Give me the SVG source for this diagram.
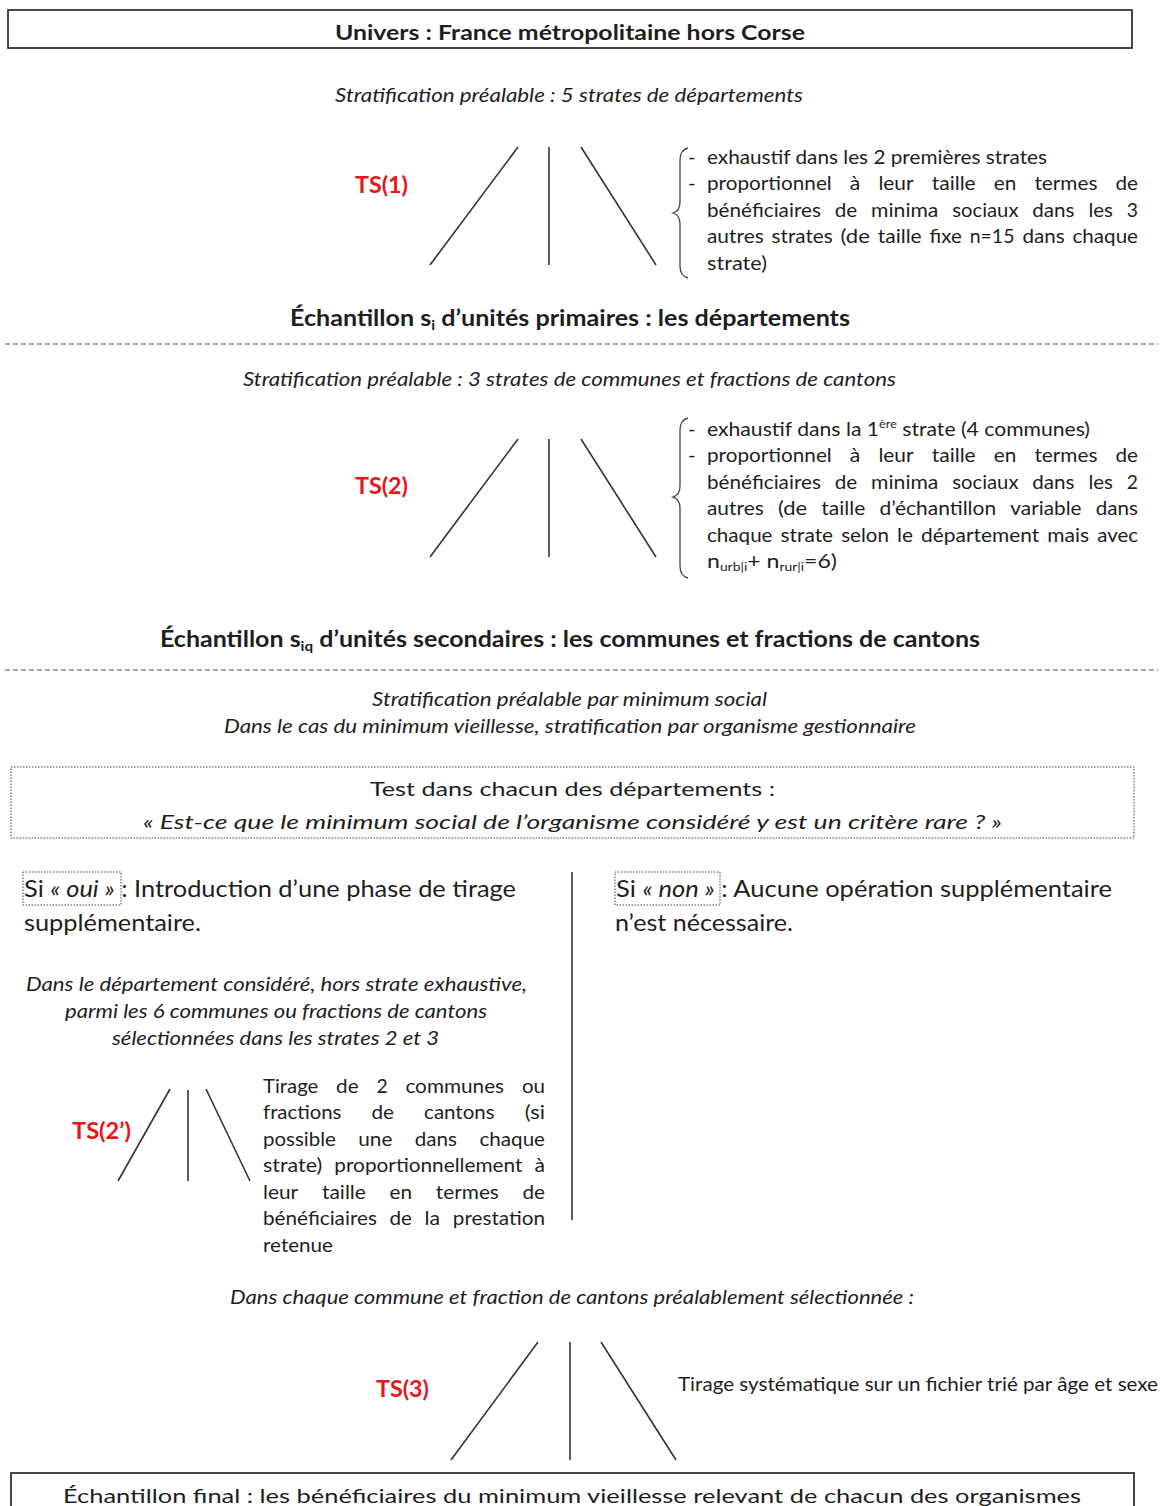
<svg xmlns="http://www.w3.org/2000/svg" width="1164" height="1506" viewBox="0 0 1164 1506">
<style>
text{font-family:Lato,"Noto Sans","Liberation Sans",sans-serif;fill:#1e1e1e;font-size:20px}
.it{font-style:italic}
.h{font-size:23px;font-weight:bold}
.big{font-size:24px}
.ts{fill:#e8161b;font-weight:bold;font-size:22px}
.fan{stroke:#333;stroke-width:1.6;fill:none}
.box{fill:none;stroke:#333;stroke-width:1.8}
.dot{fill:none;stroke:#444;stroke-width:1;stroke-dasharray:1.5 1.5}
.dash{stroke:#555;stroke-width:1.2;stroke-dasharray:5 3}
.brace{fill:none;stroke:#444;stroke-width:1.3}
</style>
<rect width="1164" height="1506" fill="#fff"/>

<g id="univers">
<rect class="box" x="8" y="10" width="1124" height="38"/>
<text x="335" y="40" font-size="22" font-weight="bold" textLength="470" lengthAdjust="spacingAndGlyphs">Univers : France métropolitaine hors Corse</text>
</g>

<g id="strat1">
<text class="it" x="335" y="102" textLength="468" lengthAdjust="spacingAndGlyphs">Stratification préalable : 5 strates de départements</text>
</g>

<g id="ts1">
<text class="ts" x="355" y="193" textLength="53" lengthAdjust="spacingAndGlyphs">TS(1)</text>
<path class="brace" d="M688,148 Q680,150 680,160 L680,202 Q680,211 673,213 Q680,215 680,224 L680,266 Q680,276 688,278"/>
<text x="688" y="164">-</text>
<text x="707" y="164" textLength="340" lengthAdjust="spacingAndGlyphs">exhaustif dans les 2 premières strates</text>
<text x="688" y="190">-</text>
<g lengthAdjust="spacingAndGlyphs">
<text x="707" y="190" textLength="124.7" lengthAdjust="spacingAndGlyphs">proportionnel</text>
<text x="849.8" y="190" textLength="10.5" lengthAdjust="spacingAndGlyphs">à</text>
<text x="878.4" y="190" textLength="35.2" lengthAdjust="spacingAndGlyphs">leur</text>
<text x="931.7" y="190" textLength="44" lengthAdjust="spacingAndGlyphs">taille</text>
<text x="993.8" y="190" textLength="22.5" lengthAdjust="spacingAndGlyphs">en</text>
<text x="1034.4" y="190" textLength="63.1" lengthAdjust="spacingAndGlyphs">termes</text>
<text x="1115.5" y="190" textLength="22.5" lengthAdjust="spacingAndGlyphs">de</text>

<text x="707" y="217" textLength="113.9" lengthAdjust="spacingAndGlyphs">bénéficiaires</text>
<text x="834.8" y="217" textLength="22.5" lengthAdjust="spacingAndGlyphs">de</text>
<text x="871.1" y="217" textLength="67.3" lengthAdjust="spacingAndGlyphs">minima</text>
<text x="952.3" y="217" textLength="66.2" lengthAdjust="spacingAndGlyphs">sociaux</text>
<text x="1032.3" y="217" textLength="42.2" lengthAdjust="spacingAndGlyphs">dans</text>
<text x="1088.4" y="217" textLength="24.6" lengthAdjust="spacingAndGlyphs">les</text>
<text x="1126.8" y="217" textLength="11.2" lengthAdjust="spacingAndGlyphs">3</text>

<text x="707" y="243" textLength="56.7" lengthAdjust="spacingAndGlyphs">autres</text>
<text x="771.6" y="243" textLength="61.1" lengthAdjust="spacingAndGlyphs">strates</text>
<text x="840.6" y="243" textLength="29.2" lengthAdjust="spacingAndGlyphs">(de</text>
<text x="877.7" y="243" textLength="44" lengthAdjust="spacingAndGlyphs">taille</text>
<text x="929.6" y="243" textLength="32.2" lengthAdjust="spacingAndGlyphs">fixe</text>
<text x="969.7" y="243" textLength="44.8" lengthAdjust="spacingAndGlyphs">n=15</text>
<text x="1022.4" y="243" textLength="42.2" lengthAdjust="spacingAndGlyphs">dans</text>
<text x="1072.5" y="243" textLength="65.5" lengthAdjust="spacingAndGlyphs">chaque</text>
</g>
<text x="707" y="270" textLength="60" lengthAdjust="spacingAndGlyphs">strate)</text>
</g>

<g id="echantillon-primaire">
<text class="h" x="290" y="326" textLength="560" lengthAdjust="spacingAndGlyphs">Échantillon s<tspan font-size="14" dy="4">i</tspan><tspan dy="-4"> d’unités primaires : les départements</tspan></text>
<line class="dash" x1="5" y1="344" x2="1158" y2="344"/>
</g>

<g id="strat2">
<text class="it" x="243" y="386" textLength="653" lengthAdjust="spacingAndGlyphs">Stratification préalable : 3 strates de communes et fractions de cantons</text>
</g>

<g id="ts2">
<text class="ts" x="355" y="494" textLength="53" lengthAdjust="spacingAndGlyphs">TS(2)</text>
<path class="brace" d="M688,418 Q680,420 680,430 L680,486 Q680,495 673,497 Q680,499 680,508 L680,566 Q680,576 688,578"/>
<text x="688" y="436">-</text>
<text x="707" y="436" textLength="383" lengthAdjust="spacingAndGlyphs">exhaustif dans la 1<tspan font-size="12" dy="-8">ère</tspan><tspan dy="8"> strate (4 communes)</tspan></text>
<text x="688" y="462">-</text>
<text x="707" y="462" textLength="124.7" lengthAdjust="spacingAndGlyphs">proportionnel</text>
<text x="849.8" y="462" textLength="10.5" lengthAdjust="spacingAndGlyphs">à</text>
<text x="878.4" y="462" textLength="35.2" lengthAdjust="spacingAndGlyphs">leur</text>
<text x="931.7" y="462" textLength="44" lengthAdjust="spacingAndGlyphs">taille</text>
<text x="993.8" y="462" textLength="22.5" lengthAdjust="spacingAndGlyphs">en</text>
<text x="1034.4" y="462" textLength="63.1" lengthAdjust="spacingAndGlyphs">termes</text>
<text x="1115.5" y="462" textLength="22.5" lengthAdjust="spacingAndGlyphs">de</text>

<text x="707" y="489" textLength="113.9" lengthAdjust="spacingAndGlyphs">bénéficiaires</text>
<text x="834.8" y="489" textLength="22.5" lengthAdjust="spacingAndGlyphs">de</text>
<text x="871.1" y="489" textLength="67.3" lengthAdjust="spacingAndGlyphs">minima</text>
<text x="952.3" y="489" textLength="66.2" lengthAdjust="spacingAndGlyphs">sociaux</text>
<text x="1032.3" y="489" textLength="42.2" lengthAdjust="spacingAndGlyphs">dans</text>
<text x="1088.4" y="489" textLength="24.6" lengthAdjust="spacingAndGlyphs">les</text>
<text x="1126.8" y="489" textLength="11.2" lengthAdjust="spacingAndGlyphs">2</text>

<text x="707" y="515" textLength="56.7" lengthAdjust="spacingAndGlyphs">autres</text>
<text x="777.9" y="515" textLength="29.2" lengthAdjust="spacingAndGlyphs">(de</text>
<text x="821.3" y="515" textLength="44" lengthAdjust="spacingAndGlyphs">taille</text>
<text x="879.5" y="515" textLength="116.6" lengthAdjust="spacingAndGlyphs">d’échantillon</text>
<text x="1010.3" y="515" textLength="71.3" lengthAdjust="spacingAndGlyphs">variable</text>
<text x="1095.8" y="515" textLength="42.2" lengthAdjust="spacingAndGlyphs">dans</text>

<text x="707" y="542" textLength="65.5" lengthAdjust="spacingAndGlyphs">chaque</text>
<text x="780.6" y="542" textLength="52.5" lengthAdjust="spacingAndGlyphs">strate</text>
<text x="841.2" y="542" textLength="47.7" lengthAdjust="spacingAndGlyphs">selon</text>
<text x="897" y="542" textLength="16" lengthAdjust="spacingAndGlyphs">le</text>
<text x="921.1" y="542" textLength="118.1" lengthAdjust="spacingAndGlyphs">département</text>
<text x="1047.3" y="542" textLength="41.8" lengthAdjust="spacingAndGlyphs">mais</text>
<text x="1097.3" y="542" textLength="40.7" lengthAdjust="spacingAndGlyphs">avec</text>

<text x="707" y="568" textLength="130" lengthAdjust="spacingAndGlyphs">n<tspan font-size="12" dy="3">urb|i</tspan><tspan dy="-3">+ n</tspan><tspan font-size="12" dy="3">rur|i</tspan><tspan dy="-3">=6)</tspan></text>
</g>

<g id="echantillon-secondaire">
<text class="h" x="160" y="647" textLength="820" lengthAdjust="spacingAndGlyphs">Échantillon s<tspan font-size="14" dy="4">iq</tspan><tspan dy="-4"> d’unités secondaires : les communes et fractions de cantons</tspan></text>
<line class="dash" x1="5" y1="670" x2="1158" y2="670"/>
</g>

<g id="strat3">
<text class="it" x="372" y="706" textLength="395" lengthAdjust="spacingAndGlyphs">Stratification préalable par minimum social</text>
<text class="it" x="224" y="733" textLength="692" lengthAdjust="spacingAndGlyphs">Dans le cas du minimum vieillesse, stratification par organisme gestionnaire</text>
</g>

<g id="test">
<rect class="dot" x="11" y="767" width="1123" height="71"/>
<text x="370" y="796" font-size="25" textLength="405" lengthAdjust="spacingAndGlyphs">Test dans chacun des départements :</text>
<text class="it" x="143" y="829" font-size="25" textLength="859" lengthAdjust="spacingAndGlyphs">« Est-ce que le minimum social de l’organisme considéré y est un critère rare ? »</text>
</g>

<g id="oui">
<rect class="dot" x="23" y="872" width="98" height="33"/>
<text class="big" x="24" y="897" textLength="492" lengthAdjust="spacingAndGlyphs">Si <tspan class="it">« oui »</tspan> : Introduction d’une phase de tirage</text>
<text class="big" x="24" y="931" textLength="177" lengthAdjust="spacingAndGlyphs">supplémentaire.</text>
<text class="it" x="26" y="991" textLength="501" lengthAdjust="spacingAndGlyphs">Dans le département considéré, hors strate exhaustive,</text>
<text class="it" x="65" y="1018" textLength="422" lengthAdjust="spacingAndGlyphs">parmi les 6 communes ou fractions de cantons</text>
<text class="it" x="112" y="1045" textLength="327" lengthAdjust="spacingAndGlyphs">sélectionnées dans les strates 2 et 3</text>
</g>

<g id="non">
<rect class="dot" x="615" y="872" width="105" height="33"/>
<text class="big" x="616" y="897" textLength="496" lengthAdjust="spacingAndGlyphs">Si <tspan class="it">« non »</tspan> : Aucune opération supplémentaire</text>
<text class="big" x="615" y="931" textLength="178" lengthAdjust="spacingAndGlyphs">n’est nécessaire.</text>
</g>

<g id="ts2prime">
<text class="ts" x="72" y="1139" textLength="59" lengthAdjust="spacingAndGlyphs">TS(2’)</text>
<text x="263" y="1093" textLength="55.3" lengthAdjust="spacingAndGlyphs">Tirage</text>
<text x="336.1" y="1093" textLength="22.5" lengthAdjust="spacingAndGlyphs">de</text>
<text x="376.4" y="1093" textLength="11.2" lengthAdjust="spacingAndGlyphs">2</text>
<text x="405.4" y="1093" textLength="98.7" lengthAdjust="spacingAndGlyphs">communes</text>
<text x="521.9" y="1093" textLength="23.1" lengthAdjust="spacingAndGlyphs">ou</text>

<text x="263" y="1119" textLength="78.4" lengthAdjust="spacingAndGlyphs">fractions</text>
<text x="371.5" y="1119" textLength="22.5" lengthAdjust="spacingAndGlyphs">de</text>
<text x="424.1" y="1119" textLength="70.5" lengthAdjust="spacingAndGlyphs">cantons</text>
<text x="524.7" y="1119" textLength="20.3" lengthAdjust="spacingAndGlyphs">(si</text>

<text x="263" y="1146" textLength="72.9" lengthAdjust="spacingAndGlyphs">possible</text>
<text x="358.3" y="1146" textLength="34.1" lengthAdjust="spacingAndGlyphs">une</text>
<text x="414.8" y="1146" textLength="42.2" lengthAdjust="spacingAndGlyphs">dans</text>
<text x="479.5" y="1146" textLength="65.5" lengthAdjust="spacingAndGlyphs">chaque</text>

<text x="263" y="1172" textLength="59.2" lengthAdjust="spacingAndGlyphs">strate)</text>
<text x="334.3" y="1172" textLength="188.2" lengthAdjust="spacingAndGlyphs">proportionnellement</text>
<text x="534.5" y="1172" textLength="10.5" lengthAdjust="spacingAndGlyphs">à</text>

<text x="263" y="1199" textLength="35.2" lengthAdjust="spacingAndGlyphs">leur</text>
<text x="321.9" y="1199" textLength="44" lengthAdjust="spacingAndGlyphs">taille</text>
<text x="389.6" y="1199" textLength="22.5" lengthAdjust="spacingAndGlyphs">en</text>
<text x="435.8" y="1199" textLength="63.1" lengthAdjust="spacingAndGlyphs">termes</text>
<text x="522.5" y="1199" textLength="22.5" lengthAdjust="spacingAndGlyphs">de</text>

<text x="263" y="1225" textLength="113.9" lengthAdjust="spacingAndGlyphs">bénéficiaires</text>
<text x="389.5" y="1225" textLength="22.5" lengthAdjust="spacingAndGlyphs">de</text>
<text x="424.6" y="1225" textLength="15.6" lengthAdjust="spacingAndGlyphs">la</text>
<text x="452.8" y="1225" textLength="92.2" lengthAdjust="spacingAndGlyphs">prestation</text>

<text x="263" y="1252" textLength="70" lengthAdjust="spacingAndGlyphs">retenue</text>
</g>

<g id="ts3">
<text class="it" x="230" y="1304" textLength="684" lengthAdjust="spacingAndGlyphs">Dans chaque commune et fraction de cantons préalablement sélectionnée :</text>
<text class="ts" x="376" y="1397" textLength="53" lengthAdjust="spacingAndGlyphs">TS(3)</text>
<text x="678" y="1391" textLength="480" lengthAdjust="spacingAndGlyphs">Tirage systématique sur un fichier trié par âge et sexe</text>
</g>

<g id="final">
<rect class="box" x="11" y="1473" width="1123" height="40"/>
<text x="63" y="1503" font-size="25" textLength="1018" lengthAdjust="spacingAndGlyphs">Échantillon final : les bénéficiaires du minimum vieillesse relevant de chacun des organismes</text>
</g>

<g id="connectors">
<line class="fan" x1="430" y1="265" x2="518" y2="147"/>
<line class="fan" x1="549" y1="147" x2="549" y2="265"/>
<line class="fan" x1="581" y1="147" x2="656" y2="265"/>
<line class="fan" x1="430" y1="557" x2="518" y2="439"/>
<line class="fan" x1="549" y1="439" x2="549" y2="557"/>
<line class="fan" x1="581" y1="439" x2="656" y2="557"/>
<line class="fan" x1="572" y1="872" x2="572" y2="1220"/>
<line class="fan" x1="118" y1="1181" x2="170" y2="1089"/>
<line class="fan" x1="188" y1="1090" x2="188" y2="1181"/>
<line class="fan" x1="206" y1="1089" x2="250" y2="1181"/>
<line class="fan" x1="451" y1="1460" x2="538" y2="1342"/>
<line class="fan" x1="570" y1="1342" x2="570" y2="1460"/>
<line class="fan" x1="601" y1="1342" x2="676" y2="1460"/>
</g>
</svg>
